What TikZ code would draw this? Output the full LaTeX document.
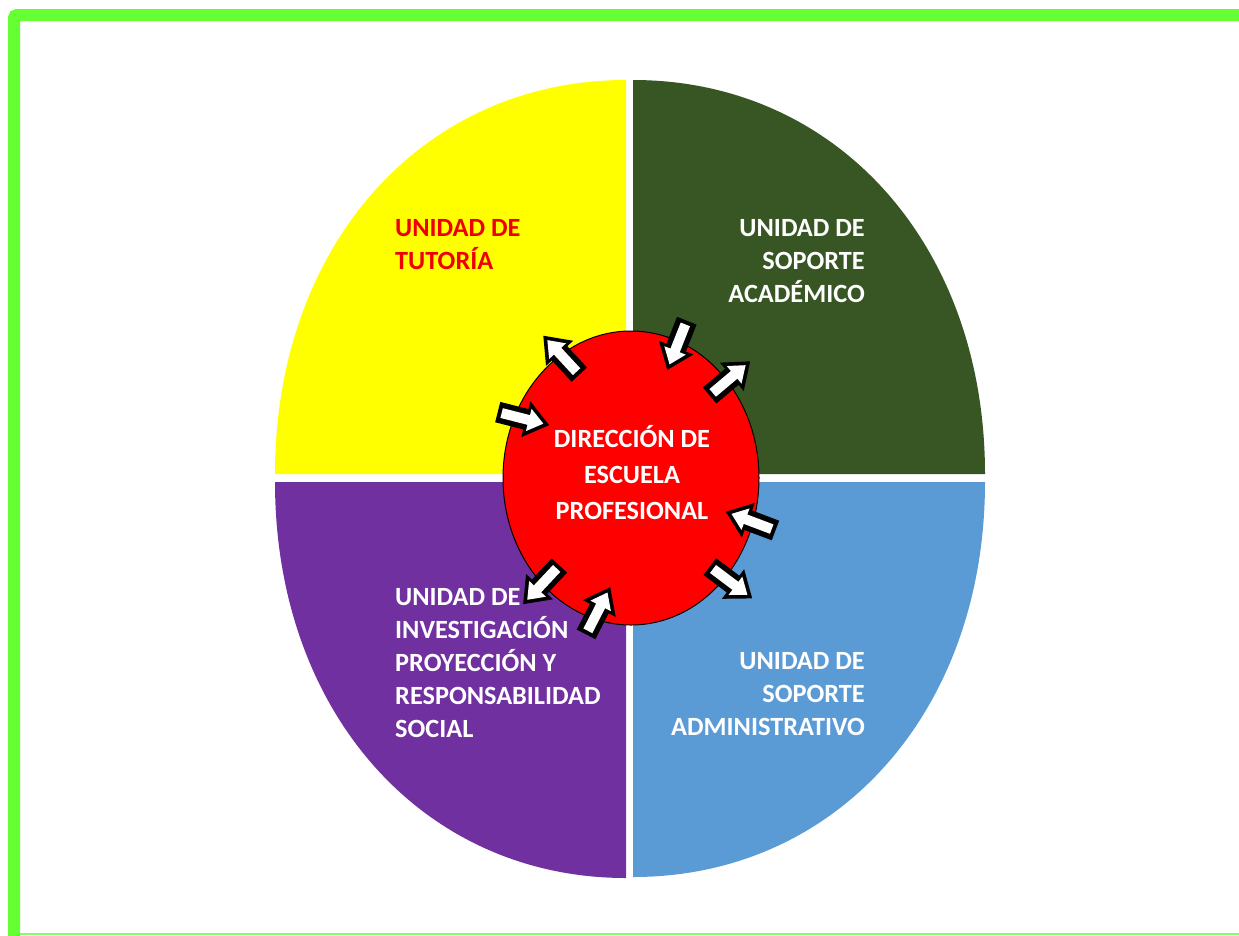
\documentclass[tikz,border=0pt]{standalone}
\usepackage{fontspec}
\setmainfont{Carlito}
\definecolor{bordergreen}{HTML}{66FF33}
\definecolor{linegreen}{HTML}{80FF60}
\definecolor{quadyellow}{HTML}{FFFF00}
\definecolor{quaddkgreen}{HTML}{385623}
\definecolor{quadpurple}{HTML}{7030A0}
\definecolor{quadblue}{HTML}{5B9BD5}
\definecolor{centerred}{HTML}{FF0000}
\definecolor{textred}{HTML}{EE0000}
\tikzset{
  label26/.style={font=\bfseries\fontsize{26.3}{33}\selectfont, inner sep=0pt, text=white},
  blockarrow/.pic={
     \fill[black] (-24,-10.5) -- (5,-10.5) -- (5,-18.5) -- (29,0) -- (5,18.5) -- (5,10.5) -- (-24,10.5) -- cycle;
     \fill[white] (-20,-5) -- (8,-5) -- (8,-11.5) -- (23,0) -- (8,11.5) -- (8,5) -- (-20,5) -- cycle;}
}
\begin{document}
\begin{tikzpicture}[x=1pt,y=1pt]
\useasboundingbox (0,0) rectangle (1239,-935);
\clip (0,0) rectangle (1239,-935);
\fill[white] (0,0) rectangle (1239,-935);
% frame
\draw[bordergreen, line width=12pt, rounded corners=3pt] (14,-950) -- (14,-15) -- (1260,-15);
\draw[linegreen, line width=1.8pt] (20,-933.8) -- (1260,-933.8);
% quadrants
\fill[quadyellow] (626,-474) -- (275,-474) .. controls (275,-245.5) and (422.4,-80) .. (626,-80) -- cycle;
\fill[quaddkgreen] (633,-474) -- (633,-80) .. controls (837.2,-80) and (985,-245.5) .. (985,-474) -- cycle;
\fill[quadpurple] (626,-482) -- (275,-482) .. controls (275,-711.7) and (422.4,-878) .. (626,-878) -- cycle;
\fill[quadblue] (633,-482) -- (985,-482) .. controls (985,-711.1) and (837.2,-877) .. (633,-877) -- cycle;
% centre
\draw[fill=centerred, line width=1pt] (631,-478) ellipse [x radius=128, y radius=147];
% arrows
\pic[rotate=132.8] at (563,-357) {blockarrow};
\pic[rotate=-111.6] at (678,-343) {blockarrow};
\pic[rotate=40.1] at (728,-380) {blockarrow};
\pic[rotate=-14.3] at (521,-418) {blockarrow};
\pic[rotate=159.3] at (753,-522) {blockarrow};
\pic[rotate=-36.9] at (729,-581) {blockarrow};
\pic[rotate=-133.2] at (543,-583) {blockarrow};
\pic[rotate=62.9] at (597,-613) {blockarrow};
% texts
\node[label26, text=textred, align=left, anchor=north west] (tut) at (395,-219) {UNIDAD DE\\TUTORÍA};
\node[label26, align=right, anchor=north east] (aca) at (865,-219) {UNIDAD DE\\SOPORTE\\ACADÉMICO};
\node[label26, align=center, anchor=north, font=\bfseries\fontsize{26.3}{36}\selectfont] (dir) at (632,-425) {DIRECCIÓN DE\\ESCUELA\\PROFESIONAL};
\node[label26, align=left, anchor=north west] (inv) at (395,-588) {UNIDAD DE\\INVESTIGACIÓN\\PROYECCIÓN Y\\RESPONSABILIDAD\\SOCIAL};
\node[label26, align=right, anchor=north east] (adm) at (865,-652) {UNIDAD DE\\SOPORTE\\ADMINISTRATIVO};
\end{tikzpicture}
\end{document}
